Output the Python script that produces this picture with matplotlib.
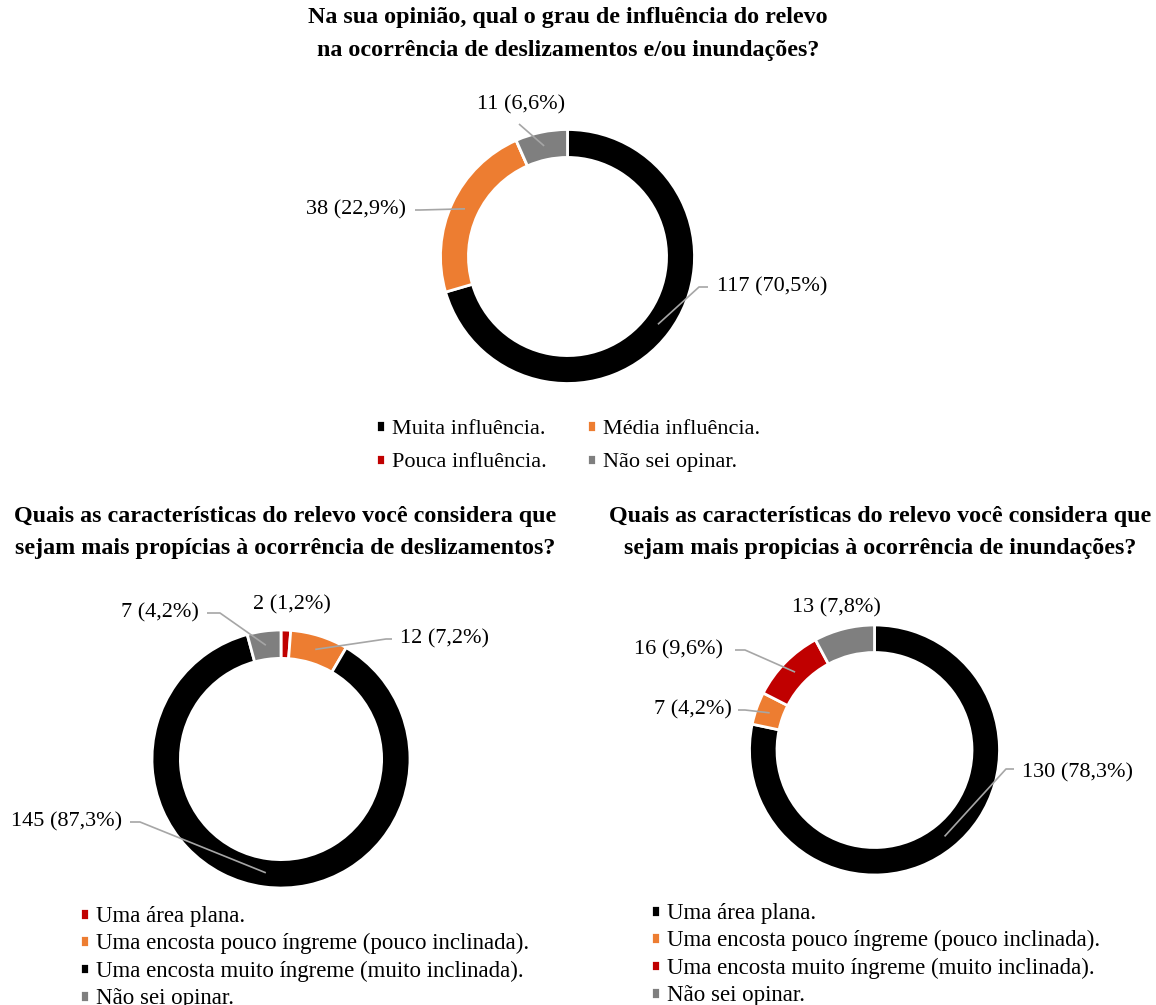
import matplotlib
matplotlib.use('Agg')
import matplotlib.pyplot as plt
import numpy as np

plt.rcParams['font.family'] = ['Liberation Serif', 'DejaVu Serif']

# cores (padrão Excel)
PRETO = '#000000'
LARANJA = '#ED7D31'
VERMELHO = '#C00000'
CINZA = '#7F7F7F'
LINHA = '#A6A6A6'

# grafico 1 - influencia do relevo
g1_titulo = 'Na sua opinião, qual o grau de influência do relevo\nna ocorrência de deslizamentos e/ou inundações?'
g1_categorias = ['Muita influência.', 'Média influência.', 'Pouca influência.', 'Não sei opinar.']
g1_valores = [117, 38, 0, 11]
g1_cores = [PRETO, LARANJA, VERMELHO, CINZA]

# grafico 2 - deslizamentos
g2_titulo = 'Quais as características do relevo você considera que\nsejam mais propícias à ocorrência de deslizamentos?'
g2_categorias = ['Uma área plana.', 'Uma encosta pouco íngreme (pouco inclinada).',
                 'Uma encosta muito íngreme (muito inclinada).', 'Não sei opinar.']
g2_valores = [2, 12, 145, 7]
g2_cores = [VERMELHO, LARANJA, PRETO, CINZA]

# grafico 3 - inundacoes
g3_titulo = 'Quais as características do relevo você considera que\nsejam mais propicias à ocorrência de inundações?'
g3_categorias = ['Uma área plana.', 'Uma encosta pouco íngreme (pouco inclinada).',
                 'Uma encosta muito íngreme (muito inclinada).', 'Não sei opinar.']
g3_valores = [130, 7, 16, 13]
g3_cores = [PRETO, LARANJA, VERMELHO, CINZA]

W, H = 1156, 1005
fig = plt.figure(figsize=(W / 100, H / 100), dpi=100)
ax = fig.add_axes([0, 0, 1, 1])


def rotulo(v, total):
    return '{0} ({1:.1f}%)'.format(v, v / total * 100).replace('.', ',')


def rosca(valores, cores, centro, raio, titulo, titulo_xy, rotulos_pos):
    # eixo y invertido: counterclock=True aparece no sentido horario
    wedges, _ = ax.pie(valores, colors=cores, startangle=-90, counterclock=True,
                       center=centro, radius=raio,
                       wedgeprops=dict(width=raio * 0.22, edgecolor='white', linewidth=2))
    total = sum(valores)
    for w, v, pos in zip(wedges, valores, rotulos_pos):
        if pos is None:
            continue
        (tx, ty), linha = pos
        ax.text(tx, ty, rotulo(v, total), ha='center', va='center', fontsize=16)
        if linha:
            th = np.deg2rad((w.theta1 + w.theta2) / 2)
            r = raio * 0.89
            ax_x = centro[0] + r * np.cos(th)
            ax_y = centro[1] + r * np.sin(th)
            xs = [p[0] for p in linha] + [ax_x]
            ys = [p[1] for p in linha] + [ax_y]
            ax.plot(xs, ys, color=LINHA, lw=1.2, solid_capstyle='butt')
    ax.text(titulo_xy[0], titulo_xy[1], titulo, ha='center', va='center', fontsize=17.3,
            fontweight='bold', linespacing=1.7)
    return wedges


w1 = rosca(g1_valores, g1_cores, (567.5, 256.5), 127, g1_titulo, (568, 34),
           [((772, 287), [(708, 287), (699, 287)]),
            ((356, 210), [(415, 210), (420, 210)]),
            None,
            ((521, 105), [(519, 124)])])
w2 = rosca(g2_valores, g2_cores, (281, 759), 129, g2_titulo, (285, 532.5),
           [((292, 605), None),
            ((444, 639), [(392, 639), (386, 639)]),
            ((67, 822), [(130, 822), (140, 822)]),
            ((160, 613), [(207, 613), (220, 613)])])
w3 = rosca(g3_valores, g3_cores, (874.5, 750), 125, g3_titulo, (880, 532.5),
           [((1077, 773), [(1014, 769), (1006, 769)]),
            ((693, 710), [(738, 710), (745, 710)]),
            ((678, 650), [(735, 650), (745, 650)]),
            ((836, 608), None)])

ax.set_xlim(0, W)
ax.set_ylim(H, 0)
ax.set_aspect('auto')
ax.axis('off')

leg_kw = dict(loc='upper left', frameon=False, handlelength=0.4,
              handleheight=0.4, handletextpad=0.3, borderpad=0, borderaxespad=0,
              bbox_transform=ax.transData)
# legenda em duas colunas preenchida por linha
ordem = [0, 2, 1, 3]
l1 = ax.legend([w1[i] for i in ordem], [g1_categorias[i] for i in ordem], ncol=2, fontsize=16,
               columnspacing=1.85, labelspacing=0.65, bbox_to_anchor=(376, 420), **leg_kw)
ax.add_artist(l1)
l2 = ax.legend(w2, g2_categorias, fontsize=16.5, labelspacing=0.27,
               bbox_to_anchor=(80, 906), **leg_kw)
ax.add_artist(l2)
l3 = ax.legend(w3, g3_categorias, fontsize=16.5, labelspacing=0.27,
               bbox_to_anchor=(651, 903), **leg_kw)

fig.savefig('out.png', dpi=100)
